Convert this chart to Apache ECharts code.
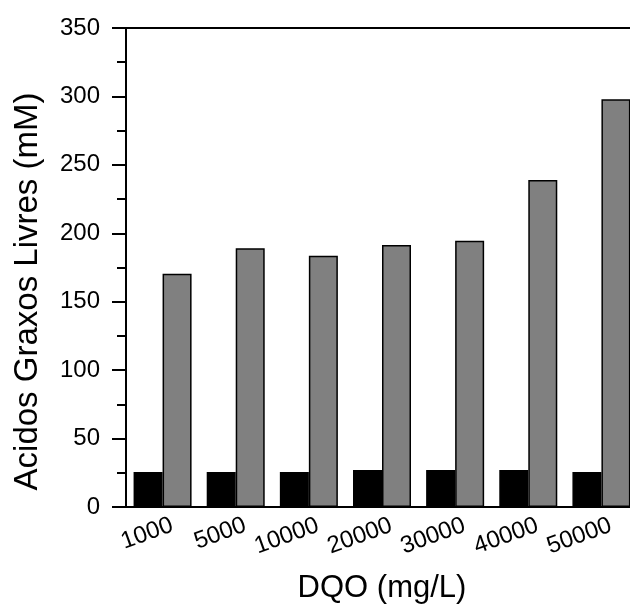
<!DOCTYPE html>
<html>
<head>
<meta charset="utf-8">
<script src="https://cdn.jsdelivr.net/npm/echarts@6/dist/echarts.min.js"></script>
<style>
  html, body { margin: 0; padding: 0; background: #fff; }
  #main { width: 630px; height: 607px; }
</style>
</head>
<body>
<div id="main"></div>
<script>
// DQO (mg/L) categories
var categories = ['1000', '5000', '10000', '20000', '30000', '40000', '50000'];
// black bars
var blackValues = [25.5, 25.5, 25.5, 27, 27, 27, 25.5];
// grey bars
var greyValues = [170.5, 189, 183.5, 191.5, 194.5, 239, 298];
// y axis range
var yMin = 0;
var yMax = 350;
var yStep = 50;

var font = 'Arial, "Liberation Sans", sans-serif';

var myChart = echarts.init(document.getElementById('main'));

var option = {
  animation: false,
  backgroundColor: '#fff',
  grid: { left: 126, right: -8, top: 28, bottom: 100, containLabel: false, outerBoundsMode: 'none' },
  xAxis: [{
    type: 'category',
    data: categories,
    position: 'bottom',
    name: 'DQO (mg/L)',
    nameLocation: 'middle',
    nameGap: 66,
    nameTextStyle: { fontSize: 31, fontFamily: font, color: '#000' },
    axisLine: { lineStyle: { color: '#000', width: 2 } },
    axisTick: { show: false },
    axisLabel: {
      rotate: 20,
      align: 'center',
      verticalAlign: 'middle',
      margin: 21,
      interval: 0,
      // pad the right side so the text ends just past the category centre
      formatter: function (v) { return '{d' + v.length + '|' + v + '}'; },
      rich: {
        d4: { fontSize: 24, fontFamily: font, color: '#000', padding: [0, 33, 0, 0] },
        d5: { fontSize: 24, fontFamily: font, color: '#000', padding: [0, 47, 0, 0] }
      }
    }
  }, {
    type: 'category',
    data: categories,
    position: 'top',
    axisLine: { lineStyle: { color: '#000', width: 2 } },
    axisTick: { show: false },
    axisLabel: { show: false }
  }],
  yAxis: {
    type: 'value',
    min: yMin,
    max: yMax,
    interval: yStep,
    name: 'Acidos Graxos Livres (mM)',
    nameLocation: 'middle',
    nameGap: 82,
    nameTextStyle: { fontSize: 33, fontFamily: font, color: '#000', padding: [0, 48, 0, 0] },
    axisLine: { show: true, lineStyle: { color: '#000', width: 2 } },
    axisTick: { show: true, length: 14, lineStyle: { color: '#000', width: 2 } },
    minorTick: { show: true, splitNumber: 2, length: 9, lineStyle: { color: '#000', width: 2 } },
    splitLine: { show: false },
    axisLabel: { fontSize: 24, fontFamily: font, color: '#000', margin: 26 }
  },
  series: [{
    type: 'bar',
    data: blackValues,
    barWidth: 29,
    barGap: '0%',
    itemStyle: { color: '#000', borderColor: '#000', borderWidth: 1.5 }
  }, {
    type: 'bar',
    data: greyValues,
    barWidth: 29,
    barGap: '0%',
    itemStyle: { color: '#808080', borderColor: '#000', borderWidth: 1.5 }
  }]
};

myChart.setOption(option);
</script>
</body>
</html>
